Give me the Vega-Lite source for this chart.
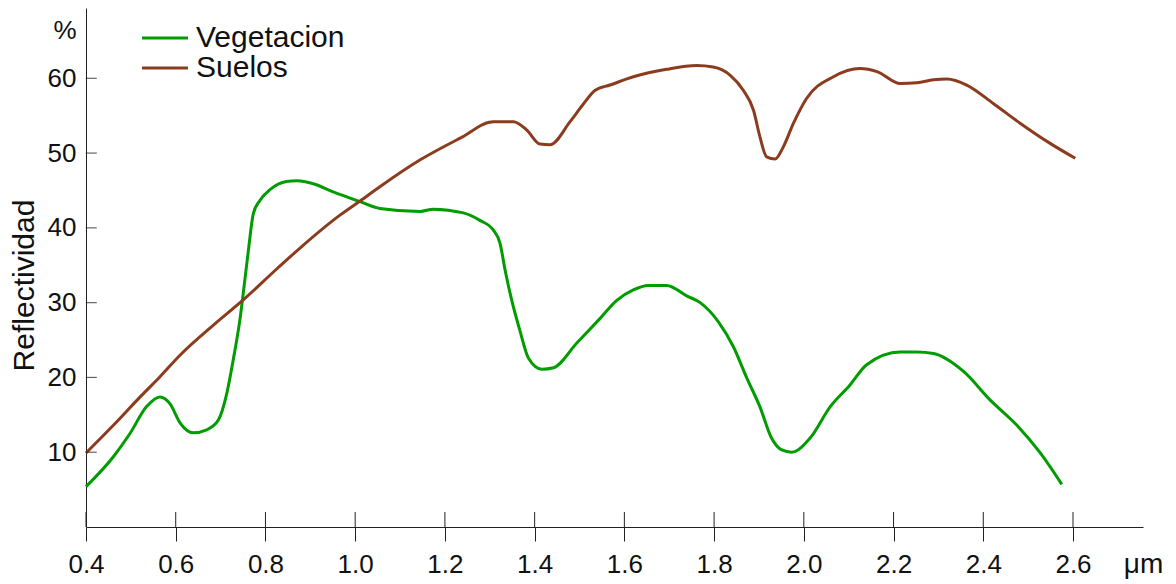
{
  "$schema": "https://vega.github.io/schema/vega-lite/v6.json",
  "width": 1057,
  "height": 519,
  "autosize": {"type": "none"},
  "padding": {"left": 86, "top": 8, "right": 33, "bottom": 57},
  "background": "white",
  "config": {
    "view": {"stroke": null},
    "font": "Liberation Sans"
  },
  "datasets": {
    "curves": [
      {"x": 0.400, "r": 5.4, "s": "Vegetacion"},
      {"x": 0.461, "r": 9.4, "s": "Vegetacion"},
      {"x": 0.498, "r": 12.5, "s": "Vegetacion"},
      {"x": 0.535, "r": 16.1, "s": "Vegetacion"},
      {"x": 0.565, "r": 17.4, "s": "Vegetacion"},
      {"x": 0.587, "r": 16.5, "s": "Vegetacion"},
      {"x": 0.610, "r": 13.9, "s": "Vegetacion"},
      {"x": 0.639, "r": 12.6, "s": "Vegetacion"},
      {"x": 0.669, "r": 13.0, "s": "Vegetacion"},
      {"x": 0.695, "r": 14.3, "s": "Vegetacion"},
      {"x": 0.714, "r": 17.9, "s": "Vegetacion"},
      {"x": 0.728, "r": 22.3, "s": "Vegetacion"},
      {"x": 0.743, "r": 27.7, "s": "Vegetacion"},
      {"x": 0.754, "r": 33.0, "s": "Vegetacion"},
      {"x": 0.762, "r": 37.0, "s": "Vegetacion"},
      {"x": 0.773, "r": 41.9, "s": "Vegetacion"},
      {"x": 0.788, "r": 43.7, "s": "Vegetacion"},
      {"x": 0.810, "r": 45.1, "s": "Vegetacion"},
      {"x": 0.847, "r": 46.2, "s": "Vegetacion"},
      {"x": 0.870, "r": 46.3, "s": "Vegetacion"},
      {"x": 0.907, "r": 45.9, "s": "Vegetacion"},
      {"x": 0.951, "r": 44.8, "s": "Vegetacion"},
      {"x": 1.011, "r": 43.5, "s": "Vegetacion"},
      {"x": 1.055, "r": 42.6, "s": "Vegetacion"},
      {"x": 1.145, "r": 42.2, "s": "Vegetacion"},
      {"x": 1.174, "r": 42.5, "s": "Vegetacion"},
      {"x": 1.241, "r": 42.0, "s": "Vegetacion"},
      {"x": 1.278, "r": 41.0, "s": "Vegetacion"},
      {"x": 1.308, "r": 39.7, "s": "Vegetacion"},
      {"x": 1.323, "r": 37.9, "s": "Vegetacion"},
      {"x": 1.334, "r": 34.4, "s": "Vegetacion"},
      {"x": 1.349, "r": 30.3, "s": "Vegetacion"},
      {"x": 1.367, "r": 26.3, "s": "Vegetacion"},
      {"x": 1.386, "r": 22.6, "s": "Vegetacion"},
      {"x": 1.416, "r": 21.1, "s": "Vegetacion"},
      {"x": 1.442, "r": 21.3, "s": "Vegetacion"},
      {"x": 1.494, "r": 24.6, "s": "Vegetacion"},
      {"x": 1.546, "r": 27.9, "s": "Vegetacion"},
      {"x": 1.583, "r": 30.3, "s": "Vegetacion"},
      {"x": 1.620, "r": 31.7, "s": "Vegetacion"},
      {"x": 1.653, "r": 32.3, "s": "Vegetacion"},
      {"x": 1.694, "r": 32.3, "s": "Vegetacion"},
      {"x": 1.739, "r": 30.9, "s": "Vegetacion"},
      {"x": 1.769, "r": 30.0, "s": "Vegetacion"},
      {"x": 1.810, "r": 27.4, "s": "Vegetacion"},
      {"x": 1.843, "r": 24.1, "s": "Vegetacion"},
      {"x": 1.873, "r": 19.9, "s": "Vegetacion"},
      {"x": 1.902, "r": 16.1, "s": "Vegetacion"},
      {"x": 1.928, "r": 11.9, "s": "Vegetacion"},
      {"x": 1.951, "r": 10.3, "s": "Vegetacion"},
      {"x": 1.973, "r": 10.0, "s": "Vegetacion"},
      {"x": 2.014, "r": 11.9, "s": "Vegetacion"},
      {"x": 2.059, "r": 16.1, "s": "Vegetacion"},
      {"x": 2.103, "r": 19.0, "s": "Vegetacion"},
      {"x": 2.140, "r": 21.7, "s": "Vegetacion"},
      {"x": 2.215, "r": 23.4, "s": "Vegetacion"},
      {"x": 2.252, "r": 23.4, "s": "Vegetacion"},
      {"x": 2.289, "r": 23.2, "s": "Vegetacion"},
      {"x": 2.356, "r": 20.8, "s": "Vegetacion"},
      {"x": 2.415, "r": 17.0, "s": "Vegetacion"},
      {"x": 2.475, "r": 13.6, "s": "Vegetacion"},
      {"x": 2.527, "r": 9.9, "s": "Vegetacion"},
      {"x": 2.575, "r": 5.7, "s": "Vegetacion"},
      {"x": 0.400, "r": 9.9, "s": "Suelos"},
      {"x": 0.461, "r": 13.6, "s": "Suelos"},
      {"x": 0.524, "r": 17.6, "s": "Suelos"},
      {"x": 0.565, "r": 20.1, "s": "Suelos"},
      {"x": 0.610, "r": 23.0, "s": "Suelos"},
      {"x": 0.684, "r": 27.0, "s": "Suelos"},
      {"x": 0.751, "r": 30.4, "s": "Suelos"},
      {"x": 0.825, "r": 34.5, "s": "Suelos"},
      {"x": 0.877, "r": 37.3, "s": "Suelos"},
      {"x": 0.966, "r": 41.7, "s": "Suelos"},
      {"x": 1.011, "r": 43.6, "s": "Suelos"},
      {"x": 1.055, "r": 45.5, "s": "Suelos"},
      {"x": 1.145, "r": 49.1, "s": "Suelos"},
      {"x": 1.234, "r": 52.0, "s": "Suelos"},
      {"x": 1.308, "r": 54.2, "s": "Suelos"},
      {"x": 1.353, "r": 54.2, "s": "Suelos"},
      {"x": 1.382, "r": 53.1, "s": "Suelos"},
      {"x": 1.412, "r": 51.2, "s": "Suelos"},
      {"x": 1.434, "r": 51.1, "s": "Suelos"},
      {"x": 1.479, "r": 54.2, "s": "Suelos"},
      {"x": 1.509, "r": 56.6, "s": "Suelos"},
      {"x": 1.535, "r": 58.4, "s": "Suelos"},
      {"x": 1.568, "r": 59.1, "s": "Suelos"},
      {"x": 1.620, "r": 60.2, "s": "Suelos"},
      {"x": 1.694, "r": 61.2, "s": "Suelos"},
      {"x": 1.761, "r": 61.7, "s": "Suelos"},
      {"x": 1.798, "r": 61.5, "s": "Suelos"},
      {"x": 1.836, "r": 60.4, "s": "Suelos"},
      {"x": 1.865, "r": 58.4, "s": "Suelos"},
      {"x": 1.888, "r": 55.7, "s": "Suelos"},
      {"x": 1.902, "r": 52.2, "s": "Suelos"},
      {"x": 1.917, "r": 49.5, "s": "Suelos"},
      {"x": 1.936, "r": 49.2, "s": "Suelos"},
      {"x": 1.954, "r": 50.8, "s": "Suelos"},
      {"x": 1.977, "r": 54.0, "s": "Suelos"},
      {"x": 2.006, "r": 57.3, "s": "Suelos"},
      {"x": 2.066, "r": 60.2, "s": "Suelos"},
      {"x": 2.125, "r": 61.3, "s": "Suelos"},
      {"x": 2.163, "r": 60.9, "s": "Suelos"},
      {"x": 2.215, "r": 59.3, "s": "Suelos"},
      {"x": 2.252, "r": 59.4, "s": "Suelos"},
      {"x": 2.289, "r": 59.8, "s": "Suelos"},
      {"x": 2.319, "r": 59.9, "s": "Suelos"},
      {"x": 2.363, "r": 59.1, "s": "Suelos"},
      {"x": 2.423, "r": 56.6, "s": "Suelos"},
      {"x": 2.482, "r": 54.0, "s": "Suelos"},
      {"x": 2.549, "r": 51.3, "s": "Suelos"},
      {"x": 2.605, "r": 49.3, "s": "Suelos"}
    ],
    "xticks": [
      {"x": 0.4}, {"x": 0.6}, {"x": 0.8}, {"x": 1.0}, {"x": 1.2}, {"x": 1.4},
      {"x": 1.6}, {"x": 1.8}, {"x": 2.0}, {"x": 2.2}, {"x": 2.4}, {"x": 2.6}
    ],
    "yticks": [
      {"r": 10}, {"r": 20}, {"r": 30}, {"r": 40}, {"r": 50}, {"r": 60}
    ]
  },
  "layer": [
    {
      "data": {"name": "curves"},
      "mark": {"type": "line", "strokeWidth": 3, "interpolate": "monotone"},
      "encoding": {
        "x": {
          "field": "x", "type": "quantitative",
          "scale": {"domain": [0.4, 2.756], "nice": false, "zero": false},
          "axis": {
            "values": [0.4, 0.6, 0.8, 1.0, 1.2, 1.4, 1.6, 1.8, 2.0, 2.2, 2.4, 2.6],
            "format": ".1f",
            "grid": false,
            "domainColor": "#222",
            "tickColor": "#222",
            "tickSize": 14,
            "labelPadding": 10,
            "labelFontSize": 26,
            "labelColor": "#111",
            "labelFlush": false,
            "title": "μm",
            "titleFontSize": 28,
            "titleFontWeight": "normal",
            "titleColor": "#111",
            "titleX": 1057,
            "titleY": 45,
            "titleAlign": "center",
            "titleBaseline": "alphabetic"
          }
        },
        "y": {
          "field": "r", "type": "quantitative",
          "scale": {"domain": [0, 69.4], "nice": false},
          "axis": {
            "values": [10, 20, 30, 40, 50, 60, 66.4],
            "labelExpr": "datum.value > 65 ? '%' : datum.label",
            "grid": false,
            "domainColor": "#222",
            "ticks": false,
            "labelPadding": 10,
            "labelFontSize": 26,
            "labelColor": "#111",
            "labelFlush": false,
            "title": "Reflectividad",
            "titleFontSize": 30,
            "titleFontWeight": "normal",
            "titleColor": "#111",
            "titleX": -62,
            "titleY": 277,
            "titleAngle": -90,
            "titleAlign": "center",
            "titleBaseline": "middle"
          }
        },
        "color": {
          "field": "s", "type": "nominal",
          "scale": {"domain": ["Vegetacion", "Suelos"], "range": ["#009C00", "#8C3C1E"]},
          "legend": {
            "title": null,
            "orient": "none",
            "legendX": 64,
            "legendY": 15,
            "padding": 0,
            "symbolType": "M-2,0H2",
            "symbolSize": 529,
            "symbolStrokeWidth": 3,
            "symbolFillColor": "transparent",
            "labelFontSize": 30,
            "labelColor": "#111",
            "labelOffset": 16,
            "rowPadding": 0
          }
        }
      }
    },
    {
      "data": {"name": "xticks"},
      "mark": {"type": "rule", "color": "#222", "strokeWidth": 1},
      "encoding": {
        "x": {"field": "x", "type": "quantitative"},
        "y": {"datum": 0, "type": "quantitative"},
        "y2": {"datum": 2.0}
      }
    },
    {
      "data": {"name": "yticks"},
      "mark": {"type": "tick", "orient": "horizontal", "color": "#222", "thickness": 1.2, "size": 11},
      "encoding": {
        "y": {"field": "r", "type": "quantitative"},
        "x": {"datum": 0.4117, "type": "quantitative"}
      }
    }
  ]
}
